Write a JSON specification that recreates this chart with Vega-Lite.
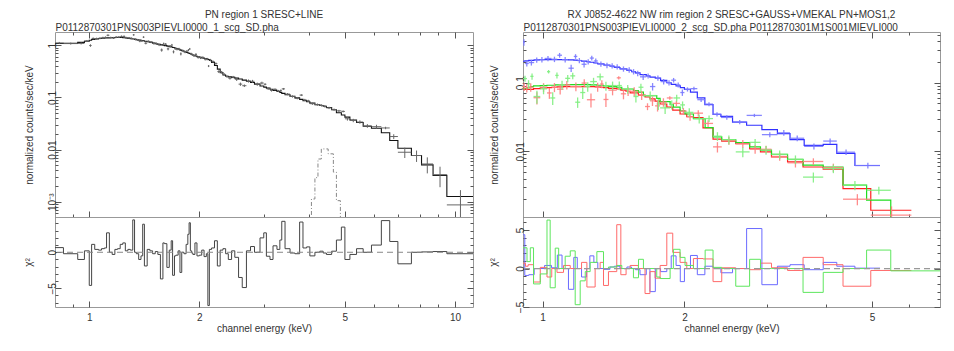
{
"$schema": "https://vega.github.io/schema/vega-lite/v6.json",
"autosize": {"type": "none"},
"padding": {"left": 55, "top": 32, "right": 899, "bottom": 319},
"config": {
 "font": "Liberation Sans",
 "view": {"stroke": "#999", "strokeWidth": 1},
 "axis": {"grid": false, "domain": false, "labelFont": "Liberation Sans", "titleFont": "Liberation Sans", "labelFontSize": 10, "titleFontSize": 10, "titleFontWeight": "normal", "labelColor": "#333", "titleColor": "#333", "tickColor": "#555", "labelOverlap": false, "labelFlush": false},
 "title": {"font": "Liberation Sans", "fontSize": 10, "fontWeight": "normal", "color": "#333"}
},
"datasets": {
 "pn": [
  {"lo":0.806,"hi":0.85,"c":0.828,"m":1.08,"d":1.112,"e":0.049,"r":0.65},
  {"lo":0.85,"hi":0.93,"c":0.89,"m":1.09,"d":1.08,"e":0.049,"r":-0.2},
  {"lo":0.93,"hi":0.97,"c":0.95,"m":1.14,"d":1.089,"e":0.051,"r":-1.0},
  {"lo":0.97,"hi":1.0,"c":0.985,"m":1.2,"d":1.211,"e":0.054,"r":0.2},
  {"lo":1.0,"hi":1.015,"c":1.0075,"m":1.25,"d":0.991,"e":0.056,"r":-4.6},
  {"lo":1.015,"hi":1.035,"c":1.025,"m":1.29,"d":1.354,"e":0.058,"r":1.1},
  {"lo":1.035,"hi":1.06,"c":1.0475,"m":1.32,"d":1.344,"e":0.059,"r":0.4},
  {"lo":1.06,"hi":1.08,"c":1.07,"m":1.35,"d":1.368,"e":0.061,"r":0.3},
  {"lo":1.08,"hi":1.1,"c":1.09,"m":1.37,"d":1.401,"e":0.062,"r":0.5},
  {"lo":1.1,"hi":1.115,"c":1.1075,"m":1.38,"d":1.417,"e":0.062,"r":0.6},
  {"lo":1.115,"hi":1.135,"c":1.125,"m":1.39,"d":1.559,"e":0.063,"r":2.7},
  {"lo":1.135,"hi":1.155,"c":1.145,"m":1.4,"d":1.4,"e":0.063,"r":0.0},
  {"lo":1.155,"hi":1.175,"c":1.165,"m":1.405,"d":1.386,"e":0.063,"r":-0.3},
  {"lo":1.175,"hi":1.195,"c":1.185,"m":1.41,"d":1.435,"e":0.063,"r":0.4},
  {"lo":1.195,"hi":1.215,"c":1.205,"m":1.41,"d":1.442,"e":0.063,"r":0.5},
  {"lo":1.215,"hi":1.235,"c":1.225,"m":1.41,"d":1.48,"e":0.063,"r":1.1},
  {"lo":1.235,"hi":1.255,"c":1.245,"m":1.4,"d":1.482,"e":0.063,"r":1.3},
  {"lo":1.255,"hi":1.275,"c":1.265,"m":1.38,"d":1.392,"e":0.062,"r":0.2},
  {"lo":1.275,"hi":1.295,"c":1.285,"m":1.36,"d":1.384,"e":0.061,"r":0.4},
  {"lo":1.295,"hi":1.315,"c":1.305,"m":1.34,"d":1.358,"e":0.06,"r":0.3},
  {"lo":1.315,"hi":1.33,"c":1.3225,"m":1.32,"d":1.587,"e":0.059,"r":4.5},
  {"lo":1.33,"hi":1.345,"c":1.3375,"m":1.3,"d":1.3,"e":0.059,"r":0.0},
  {"lo":1.345,"hi":1.365,"c":1.355,"m":1.28,"d":1.268,"e":0.058,"r":-0.2},
  {"lo":1.365,"hi":1.385,"c":1.375,"m":1.26,"d":1.203,"e":0.057,"r":-1.0},
  {"lo":1.385,"hi":1.4,"c":1.3925,"m":1.24,"d":1.212,"e":0.056,"r":-0.5},
  {"lo":1.4,"hi":1.415,"c":1.4075,"m":1.22,"d":1.434,"e":0.055,"r":3.9},
  {"lo":1.415,"hi":1.44,"c":1.4275,"m":1.2,"d":1.097,"e":0.054,"r":-1.9},
  {"lo":1.44,"hi":1.465,"c":1.4525,"m":1.17,"d":1.191,"e":0.053,"r":0.4},
  {"lo":1.465,"hi":1.49,"c":1.4775,"m":1.14,"d":1.15,"e":0.051,"r":0.2},
  {"lo":1.49,"hi":1.515,"c":1.5025,"m":1.1,"d":1.088,"e":0.061,"r":-0.2},
  {"lo":1.515,"hi":1.54,"c":1.5275,"m":1.07,"d":1.076,"e":0.059,"r":0.1},
  {"lo":1.54,"hi":1.565,"c":1.5525,"m":1.04,"d":1.023,"e":0.057,"r":-0.3},
  {"lo":1.565,"hi":1.59,"c":1.5775,"m":1.02,"d":0.812,"e":0.056,"r":-3.7},
  {"lo":1.59,"hi":1.605,"c":1.5975,"m":1.0,"d":1.072,"e":0.055,"r":1.3},
  {"lo":1.605,"hi":1.63,"c":1.6175,"m":0.985,"d":1.05,"e":0.054,"r":1.2},
  {"lo":1.63,"hi":1.655,"c":1.6425,"m":0.965,"d":0.854,"e":0.053,"r":-2.1},
  {"lo":1.655,"hi":1.675,"c":1.665,"m":0.945,"d":0.961,"e":0.052,"r":0.3},
  {"lo":1.675,"hi":1.69,"c":1.6825,"m":0.93,"d":1.012,"e":0.051,"r":1.6},
  {"lo":1.69,"hi":1.71,"c":1.7,"m":0.91,"d":0.75,"e":0.05,"r":-3.2},
  {"lo":1.71,"hi":1.725,"c":1.7175,"m":0.89,"d":0.866,"e":0.049,"r":-0.5},
  {"lo":1.725,"hi":1.75,"c":1.7375,"m":0.865,"d":0.846,"e":0.048,"r":-0.4},
  {"lo":1.75,"hi":1.77,"c":1.76,"m":0.84,"d":0.849,"e":0.046,"r":0.2},
  {"lo":1.77,"hi":1.79,"c":1.78,"m":0.81,"d":0.685,"e":0.045,"r":-2.8},
  {"lo":1.79,"hi":1.815,"c":1.8025,"m":0.785,"d":0.785,"e":0.043,"r":0.0},
  {"lo":1.815,"hi":1.84,"c":1.8275,"m":0.755,"d":0.747,"e":0.042,"r":-0.2},
  {"lo":1.84,"hi":1.86,"c":1.85,"m":0.73,"d":0.774,"e":0.04,"r":1.1},
  {"lo":1.86,"hi":1.875,"c":1.8675,"m":0.71,"d":0.808,"e":0.039,"r":2.5},
  {"lo":1.875,"hi":1.89,"c":1.8825,"m":0.695,"d":0.852,"e":0.038,"r":4.1},
  {"lo":1.89,"hi":1.905,"c":1.8975,"m":0.68,"d":0.687,"e":0.037,"r":0.2},
  {"lo":1.905,"hi":1.92,"c":1.9125,"m":0.665,"d":0.661,"e":0.037,"r":-0.1},
  {"lo":1.92,"hi":1.945,"c":1.9325,"m":0.645,"d":0.634,"e":0.035,"r":-0.3},
  {"lo":1.945,"hi":1.97,"c":1.9575,"m":0.625,"d":0.67,"e":0.034,"r":1.3},
  {"lo":1.97,"hi":2.0,"c":1.985,"m":0.605,"d":0.588,"e":0.033,"r":-0.5},
  {"lo":2.0,"hi":2.03,"c":2.015,"m":0.59,"d":0.577,"e":0.032,"r":-0.4},
  {"lo":2.03,"hi":2.06,"c":2.045,"m":0.575,"d":0.584,"e":0.032,"r":0.3},
  {"lo":2.06,"hi":2.09,"c":2.075,"m":0.56,"d":0.542,"e":0.031,"r":-0.6},
  {"lo":2.09,"hi":2.11,"c":2.1,"m":0.55,"d":0.544,"e":0.03,"r":-0.2},
  {"lo":2.11,"hi":2.13,"c":2.12,"m":0.535,"d":0.4,"e":0.018,"r":-7.4},
  {"lo":2.13,"hi":2.16,"c":2.145,"m":0.51,"d":0.521,"e":0.028,"r":0.4},
  {"lo":2.16,"hi":2.2,"c":2.18,"m":0.47,"d":0.486,"e":0.026,"r":0.6},
  {"lo":2.2,"hi":2.24,"c":2.22,"m":0.41,"d":0.446,"e":0.023,"r":1.6},
  {"lo":2.24,"hi":2.28,"c":2.26,"m":0.35,"d":0.313,"e":0.019,"r":-1.9},
  {"lo":2.28,"hi":2.32,"c":2.3,"m":0.3,"d":0.305,"e":0.017,"r":0.3},
  {"lo":2.32,"hi":2.36,"c":2.34,"m":0.27,"d":0.277,"e":0.015,"r":0.5},
  {"lo":2.36,"hi":2.4,"c":2.38,"m":0.255,"d":0.252,"e":0.014,"r":-0.2},
  {"lo":2.4,"hi":2.45,"c":2.425,"m":0.248,"d":0.234,"e":0.014,"r":-1.0},
  {"lo":2.45,"hi":2.5,"c":2.475,"m":0.243,"d":0.246,"e":0.013,"r":0.2},
  {"lo":2.5,"hi":2.56,"c":2.53,"m":0.235,"d":0.223,"e":0.016,"r":-0.7},
  {"lo":2.56,"hi":2.62,"c":2.59,"m":0.226,"d":0.18,"e":0.013,"r":-3.5},
  {"lo":2.62,"hi":2.69,"c":2.655,"m":0.215,"d":0.168,"e":0.0095,"r":-4.9},
  {"lo":2.69,"hi":2.76,"c":2.725,"m":0.204,"d":0.207,"e":0.014,"r":0.2},
  {"lo":2.76,"hi":2.83,"c":2.795,"m":0.193,"d":0.204,"e":0.0135,"r":0.8},
  {"lo":2.83,"hi":2.93,"c":2.88,"m":0.18,"d":0.18,"e":0.0126,"r":0.0},
  {"lo":2.93,"hi":3.0,"c":2.965,"m":0.166,"d":0.189,"e":0.0116,"r":2.0},
  {"lo":3.0,"hi":3.05,"c":3.025,"m":0.158,"d":0.179,"e":0.0079,"r":2.7},
  {"lo":3.05,"hi":3.12,"c":3.085,"m":0.151,"d":0.147,"e":0.0076,"r":-0.55},
  {"lo":3.12,"hi":3.18,"c":3.15,"m":0.144,"d":0.137,"e":0.0072,"r":-1.0},
  {"lo":3.18,"hi":3.26,"c":3.22,"m":0.137,"d":0.143,"e":0.0069,"r":0.9},
  {"lo":3.26,"hi":3.32,"c":3.29,"m":0.13,"d":0.133,"e":0.0065,"r":0.4},
  {"lo":3.32,"hi":3.36,"c":3.34,"m":0.125,"d":0.136,"e":0.0063,"r":1.7},
  {"lo":3.36,"hi":3.43,"c":3.395,"m":0.12,"d":0.146,"e":0.006,"r":4.3},
  {"lo":3.43,"hi":3.54,"c":3.485,"m":0.113,"d":0.116,"e":0.0057,"r":0.5},
  {"lo":3.54,"hi":3.65,"c":3.595,"m":0.105,"d":0.1045,"e":0.0053,"r":-0.1},
  {"lo":3.65,"hi":3.76,"c":3.705,"m":0.098,"d":0.097,"e":0.0049,"r":-0.2},
  {"lo":3.76,"hi":3.84,"c":3.8,"m":0.092,"d":0.111,"e":0.0046,"r":4.2},
  {"lo":3.84,"hi":3.93,"c":3.885,"m":0.087,"d":0.0896,"e":0.0044,"r":0.6},
  {"lo":3.93,"hi":4.01,"c":3.97,"m":0.083,"d":0.0861,"e":0.0042,"r":0.75},
  {"lo":4.01,"hi":4.14,"c":4.075,"m":0.078,"d":0.076,"e":0.0039,"r":-0.5},
  {"lo":4.14,"hi":4.27,"c":4.205,"m":0.073,"d":0.073,"e":0.0037,"r":0.0},
  {"lo":4.27,"hi":4.36,"c":4.315,"m":0.07,"d":0.0705,"e":0.0035,"r":0.15},
  {"lo":4.36,"hi":4.45,"c":4.405,"m":0.068,"d":0.0677,"e":0.0034,"r":-0.1},
  {"lo":4.45,"hi":4.6,"c":4.525,"m":0.064,"d":0.063,"e":0.0032,"r":-0.3},
  {"lo":4.6,"hi":4.74,"c":4.67,"m":0.058,"d":0.0584,"e":0.0029,"r":0.15},
  {"lo":4.74,"hi":4.89,"c":4.815,"m":0.051,"d":0.0553,"e":0.0026,"r":1.7},
  {"lo":4.89,"hi":5.0,"c":4.945,"m":0.046,"d":0.054,"e":0.0023,"r":3.5},
  {"lo":5.0,"hi":5.16,"c":5.08,"m":0.042,"d":0.039,"e":0.003,"r":-1.0},
  {"lo":5.16,"hi":5.38,"c":5.27,"m":0.037,"d":0.0362,"e":0.0027,"r":-0.3},
  {"lo":5.38,"hi":5.61,"c":5.495,"m":0.033,"d":0.0338,"e":0.0025,"r":0.5},
  {"lo":5.61,"hi":5.91,"c":5.76,"m":0.028,"d":0.0285,"e":0.0023,"r":0.0},
  {"lo":5.91,"hi":6.29,"c":6.1,"m":0.0257,"d":0.0275,"e":0.0024,"r":1.0},
  {"lo":6.29,"hi":6.63,"c":6.46,"m":0.021,"d":0.026,"e":0.0014,"r":4.4},
  {"lo":6.63,"hi":6.98,"c":6.8,"m":0.0149,"d":0.0178,"e":0.0019,"r":1.5},
  {"lo":6.98,"hi":7.6,"c":7.29,"m":0.0106,"d":0.0089,"e":0.002,"r":-1.6},
  {"lo":7.6,"hi":8.1,"c":7.85,"m":0.0077,"d":0.0077,"e":0.0019,"r":0.0},
  {"lo":8.1,"hi":8.71,"c":8.4,"m":0.0051,"d":0.0053,"e":0.0018,"r":0.05},
  {"lo":8.71,"hi":9.5,"c":9.1,"m":0.0032,"d":0.0033,"e":0.0014,"r":0.1},
  {"lo":9.5,"hi":11.2,"c":10.35,"m":0.00126,"d":0.00087,"e":0.0008,"r":-0.2}
 ],
 "gl": [
  {"lo":3.95,"hi":4.05,"g":0.0003},
  {"lo":4.05,"hi":4.14,"g":0.00113},
  {"lo":4.14,"hi":4.22,"g":0.0029},
  {"lo":4.22,"hi":4.31,"g":0.0066},
  {"lo":4.31,"hi":4.5,"g":0.0103},
  {"lo":4.5,"hi":4.65,"g":0.0083},
  {"lo":4.65,"hi":4.74,"g":0.0037},
  {"lo":4.74,"hi":4.86,"g":0.00105},
  {"lo":4.86,"hi":4.96,"g":0.0003}
 ],
 "rim": [
  {"det":"PN","lo":0.909,"hi":0.917,"c":0.913,"m":0.206,"d":0.39,"e":0.042,"r":4.4},
  {"det":"PN","lo":0.917,"hi":0.935,"c":0.926,"m":0.208,"d":0.191,"e":0.019,"r":-0.9},
  {"det":"PN","lo":0.935,"hi":0.96,"c":0.947,"m":0.212,"d":0.197,"e":0.019,"r":-0.8},
  {"det":"PN","lo":0.96,"hi":0.985,"c":0.972,"m":0.215,"d":0.215,"e":0.019,"r":0.0},
  {"det":"PN","lo":0.985,"hi":1.01,"c":0.997,"m":0.217,"d":0.217,"e":0.02,"r":0.0},
  {"det":"PN","lo":1.01,"hi":1.045,"c":1.027,"m":0.218,"d":0.226,"e":0.02,"r":0.4},
  {"det":"PN","lo":1.045,"hi":1.075,"c":1.06,"m":0.218,"d":0.22,"e":0.02,"r":0.1},
  {"det":"PN","lo":1.075,"hi":1.1,"c":1.087,"m":0.218,"d":0.252,"e":0.02,"r":1.75},
  {"det":"PN","lo":1.1,"hi":1.135,"c":1.117,"m":0.217,"d":0.217,"e":0.02,"r":0.0},
  {"det":"PN","lo":1.135,"hi":1.165,"c":1.15,"m":0.216,"d":0.163,"e":0.02,"r":-2.7},
  {"det":"PN","lo":1.165,"hi":1.185,"c":1.175,"m":0.214,"d":0.242,"e":0.019,"r":1.45},
  {"det":"PN","lo":1.185,"hi":1.21,"c":1.197,"m":0.211,"d":0.211,"e":0.019,"r":0.0},
  {"det":"PN","lo":1.21,"hi":1.24,"c":1.225,"m":0.207,"d":0.186,"e":0.019,"r":-1.1},
  {"det":"PN","lo":1.24,"hi":1.26,"c":1.25,"m":0.203,"d":0.203,"e":0.018,"r":0.0},
  {"det":"PN","lo":1.26,"hi":1.285,"c":1.272,"m":0.199,"d":0.229,"e":0.018,"r":1.65},
  {"det":"PN","lo":1.285,"hi":1.31,"c":1.297,"m":0.194,"d":0.208,"e":0.017,"r":0.8},
  {"det":"PN","lo":1.31,"hi":1.35,"c":1.33,"m":0.188,"d":0.188,"e":0.017,"r":0.0},
  {"det":"PN","lo":1.35,"hi":1.39,"c":1.37,"m":0.181,"d":0.179,"e":0.016,"r":-0.1},
  {"det":"PN","lo":1.39,"hi":1.42,"c":1.405,"m":0.174,"d":0.177,"e":0.016,"r":0.2},
  {"det":"PN","lo":1.42,"hi":1.46,"c":1.44,"m":0.167,"d":0.171,"e":0.015,"r":0.3},
  {"det":"PN","lo":1.46,"hi":1.51,"c":1.485,"m":0.159,"d":0.159,"e":0.014,"r":0.0},
  {"det":"PN","lo":1.51,"hi":1.545,"c":1.527,"m":0.151,"d":0.154,"e":0.014,"r":0.2},
  {"det":"PN","lo":1.545,"hi":1.575,"c":1.56,"m":0.145,"d":0.145,"e":0.013,"r":0.0},
  {"det":"PN","lo":1.575,"hi":1.61,"c":1.592,"m":0.139,"d":0.137,"e":0.0125,"r":-0.15},
  {"det":"PN","lo":1.61,"hi":1.66,"c":1.635,"m":0.131,"d":0.122,"e":0.012,"r":-0.8},
  {"det":"PN","lo":1.66,"hi":1.69,"c":1.675,"m":0.126,"d":0.126,"e":0.011,"r":0.0},
  {"det":"PN","lo":1.69,"hi":1.735,"c":1.712,"m":0.121,"d":0.088,"e":0.011,"r":-3.0},
  {"det":"PN","lo":1.735,"hi":1.78,"c":1.757,"m":0.117,"d":0.117,"e":0.0105,"r":0.0},
  {"det":"PN","lo":1.78,"hi":1.835,"c":1.807,"m":0.108,"d":0.104,"e":0.0097,"r":-0.4},
  {"det":"PN","lo":1.835,"hi":1.875,"c":1.855,"m":0.1,"d":0.1,"e":0.009,"r":0.0},
  {"det":"PN","lo":1.875,"hi":1.92,"c":1.897,"m":0.095,"d":0.109,"e":0.0085,"r":1.65},
  {"det":"PN","lo":1.92,"hi":1.96,"c":1.94,"m":0.09,"d":0.093,"e":0.008,"r":0.4},
  {"det":"PN","lo":1.96,"hi":2.0,"c":1.98,"m":0.085,"d":0.072,"e":0.0077,"r":-1.7},
  {"det":"PN","lo":2.0,"hi":2.06,"c":2.03,"m":0.08,"d":0.08,"e":0.0056,"r":0.0},
  {"det":"PN","lo":2.06,"hi":2.13,"c":2.095,"m":0.073,"d":0.082,"e":0.0051,"r":1.7},
  {"det":"PN","lo":2.13,"hi":2.21,"c":2.17,"m":0.06,"d":0.0566,"e":0.0042,"r":-0.8},
  {"det":"PN","lo":2.21,"hi":2.3,"c":2.255,"m":0.0478,"d":0.0488,"e":0.0033,"r":0.3},
  {"det":"PN","lo":2.3,"hi":2.39,"c":2.345,"m":0.0346,"d":0.0347,"e":0.0024,"r":0.05},
  {"det":"PN","lo":2.39,"hi":2.53,"c":2.46,"m":0.0324,"d":0.0312,"e":0.0023,"r":-0.55},
  {"det":"PN","lo":2.53,"hi":2.71,"c":2.62,"m":0.0267,"d":0.0267,"e":0.0019,"r":0.0},
  {"det":"PN","lo":2.71,"hi":2.92,"c":2.815,"m":0.024,"d":0.0334,"e":0.0018,"r":5.2},
  {"det":"PN","lo":2.92,"hi":3.15,"c":3.035,"m":0.0207,"d":0.0175,"e":0.0015,"r":-2.1},
  {"det":"PN","lo":3.15,"hi":3.35,"c":3.25,"m":0.0181,"d":0.0186,"e":0.0018,"r":0.3},
  {"det":"PN","lo":3.35,"hi":3.59,"c":3.47,"m":0.0148,"d":0.0155,"e":0.0015,"r":0.5},
  {"det":"PN","lo":3.59,"hi":3.94,"c":3.765,"m":0.0122,"d":0.0118,"e":0.0012,"r":-0.15},
  {"det":"PN","lo":3.94,"hi":4.21,"c":4.075,"m":0.0126,"d":0.0141,"e":0.0013,"r":0.8},
  {"det":"PN","lo":4.21,"hi":4.6,"c":4.405,"m":0.0093,"d":0.0097,"e":0.0009,"r":0.3},
  {"det":"PN","lo":4.6,"hi":5.2,"c":4.9,"m":0.0062,"d":0.0062,"e":0.0006,"r":0.05},
  {"det":"MOS1","lo":0.909,"hi":0.92,"c":0.914,"m":0.08,"d":0.088,"e":0.012,"r":0.7},
  {"det":"MOS1","lo":0.92,"hi":0.932,"c":0.926,"m":0.08,"d":0.084,"e":0.012,"r":0.3},
  {"det":"MOS1","lo":0.932,"hi":0.957,"c":0.944,"m":0.08,"d":0.086,"e":0.012,"r":0.5},
  {"det":"MOS1","lo":0.957,"hi":0.989,"c":0.973,"m":0.082,"d":0.0605,"e":0.0123,"r":-1.75},
  {"det":"MOS1","lo":0.989,"hi":1.022,"c":1.005,"m":0.084,"d":0.086,"e":0.0126,"r":0.15},
  {"det":"MOS1","lo":1.022,"hi":1.046,"c":1.034,"m":0.085,"d":0.071,"e":0.0128,"r":-1.1},
  {"det":"MOS1","lo":1.046,"hi":1.073,"c":1.06,"m":0.086,"d":0.086,"e":0.013,"r":0.0},
  {"det":"MOS1","lo":1.073,"hi":1.108,"c":1.09,"m":0.087,"d":0.0805,"e":0.013,"r":-0.5},
  {"det":"MOS1","lo":1.108,"hi":1.145,"c":1.126,"m":0.088,"d":0.093,"e":0.013,"r":0.4},
  {"det":"MOS1","lo":1.145,"hi":1.21,"c":1.177,"m":0.088,"d":0.088,"e":0.013,"r":0.0},
  {"det":"MOS1","lo":1.21,"hi":1.242,"c":1.226,"m":0.088,"d":0.099,"e":0.013,"r":0.8},
  {"det":"MOS1","lo":1.242,"hi":1.293,"c":1.267,"m":0.088,"d":0.0565,"e":0.013,"r":-2.4},
  {"det":"MOS1","lo":1.293,"hi":1.325,"c":1.309,"m":0.087,"d":0.087,"e":0.013,"r":0.0},
  {"det":"MOS1","lo":1.325,"hi":1.347,"c":1.336,"m":0.086,"d":0.096,"e":0.013,"r":0.8},
  {"det":"MOS1","lo":1.347,"hi":1.38,"c":1.363,"m":0.085,"d":0.057,"e":0.0128,"r":-2.2},
  {"det":"MOS1","lo":1.38,"hi":1.437,"c":1.408,"m":0.083,"d":0.078,"e":0.0125,"r":-0.4},
  {"det":"MOS1","lo":1.437,"hi":1.466,"c":1.451,"m":0.081,"d":0.118,"e":0.0065,"r":5.7},
  {"det":"MOS1","lo":1.466,"hi":1.504,"c":1.485,"m":0.078,"d":0.069,"e":0.0117,"r":-0.8},
  {"det":"MOS1","lo":1.504,"hi":1.534,"c":1.519,"m":0.075,"d":0.075,"e":0.011,"r":0.0},
  {"det":"MOS1","lo":1.534,"hi":1.597,"c":1.565,"m":0.071,"d":0.075,"e":0.0107,"r":0.4},
  {"det":"MOS1","lo":1.597,"hi":1.65,"c":1.623,"m":0.066,"d":0.066,"e":0.01,"r":0.0},
  {"det":"MOS1","lo":1.65,"hi":1.69,"c":1.67,"m":0.062,"d":0.045,"e":0.0052,"r":-3.25},
  {"det":"MOS1","lo":1.69,"hi":1.733,"c":1.711,"m":0.058,"d":0.0545,"e":0.0087,"r":-0.4},
  {"det":"MOS1","lo":1.733,"hi":1.776,"c":1.754,"m":0.054,"d":0.046,"e":0.008,"r":-1.25},
  {"det":"MOS1","lo":1.776,"hi":1.835,"c":1.805,"m":0.049,"d":0.052,"e":0.0074,"r":0.4},
  {"det":"MOS1","lo":1.835,"hi":1.889,"c":1.862,"m":0.044,"d":0.06,"e":0.0035,"r":4.6},
  {"det":"MOS1","lo":1.889,"hi":1.958,"c":1.923,"m":0.04,"d":0.05,"e":0.0048,"r":2.1},
  {"det":"MOS1","lo":1.958,"hi":2.023,"c":1.99,"m":0.035,"d":0.0385,"e":0.0044,"r":0.8},
  {"det":"MOS1","lo":2.023,"hi":2.09,"c":2.056,"m":0.032,"d":0.032,"e":0.0042,"r":0.0},
  {"det":"MOS1","lo":2.09,"hi":2.19,"c":2.14,"m":0.031,"d":0.036,"e":0.0038,"r":1.3},
  {"det":"MOS1","lo":2.19,"hi":2.3,"c":2.245,"m":0.022,"d":0.0255,"e":0.0028,"r":1.25},
  {"det":"MOS1","lo":2.3,"hi":2.4,"c":2.35,"m":0.015,"d":0.0116,"e":0.002,"r":-1.7},
  {"det":"MOS1","lo":2.4,"hi":2.57,"c":2.485,"m":0.0141,"d":0.0143,"e":0.0018,"r":0.1},
  {"det":"MOS1","lo":2.57,"hi":2.75,"c":2.66,"m":0.0129,"d":0.0129,"e":0.0017,"r":0.0},
  {"det":"MOS1","lo":2.75,"hi":2.9,"c":2.825,"m":0.0109,"d":0.0107,"e":0.0015,"r":-0.15},
  {"det":"MOS1","lo":2.9,"hi":3.06,"c":2.98,"m":0.0098,"d":0.0107,"e":0.0013,"r":0.7},
  {"det":"MOS1","lo":3.06,"hi":3.31,"c":3.185,"m":0.0083,"d":0.0084,"e":0.0011,"r":0.1},
  {"det":"MOS1","lo":3.31,"hi":3.57,"c":3.44,"m":0.007,"d":0.0068,"e":0.001,"r":-0.25},
  {"det":"MOS1","lo":3.57,"hi":3.94,"c":3.755,"m":0.0059,"d":0.0071,"e":0.0008,"r":1.45},
  {"det":"MOS1","lo":3.94,"hi":4.34,"c":4.14,"m":0.0055,"d":0.0058,"e":0.0008,"r":0.5},
  {"det":"MOS1","lo":4.34,"hi":4.97,"c":4.655,"m":0.00286,"d":0.002,"e":0.00037,"r":-2.3},
  {"det":"MOS1","lo":4.97,"hi":6.06,"c":5.5,"m":0.00138,"d":0.00117,"e":0.0004,"r":-0.25},
  {"det":"MOS2","lo":0.909,"hi":0.927,"c":0.918,"m":0.082,"d":0.115,"e":0.012,"r":2.7},
  {"det":"MOS2","lo":0.927,"hi":0.942,"c":0.934,"m":0.085,"d":0.096,"e":0.013,"r":0.9},
  {"det":"MOS2","lo":0.942,"hi":0.957,"c":0.95,"m":0.088,"d":0.124,"e":0.013,"r":2.7},
  {"det":"MOS2","lo":0.957,"hi":0.989,"c":0.973,"m":0.09,"d":0.063,"e":0.0135,"r":-2.0},
  {"det":"MOS2","lo":0.989,"hi":1.022,"c":1.005,"m":0.091,"d":0.0815,"e":0.0136,"r":-0.7},
  {"det":"MOS2","lo":1.022,"hi":1.038,"c":1.03,"m":0.092,"d":0.145,"e":0.0084,"r":6.3},
  {"det":"MOS2","lo":1.038,"hi":1.064,"c":1.051,"m":0.092,"d":0.06,"e":0.0128,"r":-2.5},
  {"det":"MOS2","lo":1.064,"hi":1.082,"c":1.073,"m":0.093,"d":0.128,"e":0.013,"r":2.65},
  {"det":"MOS2","lo":1.082,"hi":1.117,"c":1.1,"m":0.093,"d":0.093,"e":0.014,"r":0.0},
  {"det":"MOS2","lo":1.117,"hi":1.145,"c":1.131,"m":0.094,"d":0.116,"e":0.014,"r":1.6},
  {"det":"MOS2","lo":1.145,"hi":1.173,"c":1.159,"m":0.094,"d":0.126,"e":0.014,"r":2.3},
  {"det":"MOS2","lo":1.173,"hi":1.202,"c":1.187,"m":0.094,"d":0.052,"e":0.009,"r":-4.7},
  {"det":"MOS2","lo":1.202,"hi":1.232,"c":1.217,"m":0.094,"d":0.072,"e":0.014,"r":-1.6},
  {"det":"MOS2","lo":1.232,"hi":1.262,"c":1.247,"m":0.094,"d":0.088,"e":0.014,"r":-0.4},
  {"det":"MOS2","lo":1.262,"hi":1.304,"c":1.283,"m":0.093,"d":0.104,"e":0.014,"r":0.8},
  {"det":"MOS2","lo":1.304,"hi":1.347,"c":1.325,"m":0.092,"d":0.122,"e":0.014,"r":2.2},
  {"det":"MOS2","lo":1.347,"hi":1.38,"c":1.363,"m":0.09,"d":0.09,"e":0.0135,"r":0.0},
  {"det":"MOS2","lo":1.38,"hi":1.437,"c":1.408,"m":0.088,"d":0.091,"e":0.013,"r":0.2},
  {"det":"MOS2","lo":1.437,"hi":1.473,"c":1.455,"m":0.086,"d":0.091,"e":0.013,"r":0.4},
  {"det":"MOS2","lo":1.473,"hi":1.559,"c":1.516,"m":0.081,"d":0.081,"e":0.012,"r":0.0},
  {"det":"MOS2","lo":1.559,"hi":1.598,"c":1.578,"m":0.077,"d":0.063,"e":0.0115,"r":-1.2},
  {"det":"MOS2","lo":1.598,"hi":1.637,"c":1.617,"m":0.073,"d":0.086,"e":0.011,"r":1.2},
  {"det":"MOS2","lo":1.637,"hi":1.747,"c":1.692,"m":0.065,"d":0.065,"e":0.0098,"r":0.0},
  {"det":"MOS2","lo":1.747,"hi":1.776,"c":1.761,"m":0.059,"d":0.049,"e":0.0089,"r":-1.1},
  {"det":"MOS2","lo":1.776,"hi":1.865,"c":1.82,"m":0.053,"d":0.043,"e":0.008,"r":-1.3},
  {"det":"MOS2","lo":1.865,"hi":1.895,"c":1.88,"m":0.048,"d":0.048,"e":0.0072,"r":0.0},
  {"det":"MOS2","lo":1.895,"hi":1.958,"c":1.926,"m":0.044,"d":0.06,"e":0.0066,"r":2.5},
  {"det":"MOS2","lo":1.958,"hi":2.006,"c":1.982,"m":0.039,"d":0.0475,"e":0.0059,"r":1.45},
  {"det":"MOS2","lo":2.006,"hi":2.09,"c":2.048,"m":0.035,"d":0.037,"e":0.0053,"r":0.4},
  {"det":"MOS2","lo":2.09,"hi":2.213,"c":2.15,"m":0.03,"d":0.03,"e":0.0045,"r":0.0},
  {"det":"MOS2","lo":2.213,"hi":2.3,"c":2.256,"m":0.0221,"d":0.03,"e":0.0033,"r":2.4},
  {"det":"MOS2","lo":2.3,"hi":2.4,"c":2.35,"m":0.0162,"d":0.0166,"e":0.0024,"r":0.15},
  {"det":"MOS2","lo":2.4,"hi":2.57,"c":2.485,"m":0.0148,"d":0.0148,"e":0.0022,"r":0.0},
  {"det":"MOS2","lo":2.57,"hi":2.75,"c":2.66,"m":0.0134,"d":0.0098,"e":0.0016,"r":-2.3},
  {"det":"MOS2","lo":2.75,"hi":2.9,"c":2.825,"m":0.0116,"d":0.0135,"e":0.0016,"r":1.2},
  {"det":"MOS2","lo":2.9,"hi":3.06,"c":2.98,"m":0.0104,"d":0.0104,"e":0.0015,"r":0.0},
  {"det":"MOS2","lo":3.06,"hi":3.31,"c":3.185,"m":0.009,"d":0.009,"e":0.0013,"r":0.0},
  {"det":"MOS2","lo":3.31,"hi":3.57,"c":3.44,"m":0.0076,"d":0.0076,"e":0.0011,"r":0.0},
  {"det":"MOS2","lo":3.57,"hi":3.94,"c":3.755,"m":0.0063,"d":0.0042,"e":0.0007,"r":-3.1},
  {"det":"MOS2","lo":3.94,"hi":4.34,"c":4.14,"m":0.0059,"d":0.0056,"e":0.0008,"r":-0.5},
  {"det":"MOS2","lo":4.34,"hi":4.87,"c":4.6,"m":0.0032,"d":0.0032,"e":0.0005,"r":0.0},
  {"det":"MOS2","lo":4.87,"hi":5.48,"c":5.17,"m":0.00194,"d":0.0027,"e":0.00035,"r":2.4},
  {"det":"MOS2","lo":5.48,"hi":7.0,"c":6.2,"m":0.0009,"d":0.0008,"e":0.0003,"r":-0.3}
 ]
},
"bounds": "flush",
"columns": 2,
"spacing": {"row": 0, "column": 50},
"concat": [
 {
  "width": 418, "height": 185,
  "title": {"text": "PN region 1 SRESC+LINE", "anchor": "middle", "offset": 3},
  "layer": [
   {
    "data": {"name": "pn"},
    "transform": [{"fold": ["lo", "hi"], "as": ["edge", "E"]}],
    "mark": {"type": "line", "color": "#111", "strokeWidth": 1.1, "clip": true},
    "encoding": {
     "x": {"field": "E", "type": "quantitative", "scale": {"type": "log", "domain": [0.806, 11.2], "nice": false},
           "axis": {"orient": "bottom", "values": [0.9,1,2,3,4,5,6,7,8,9,10], "labels": false, "title": null, "domain": true, "domainColor": "#222",
                    "tickSize": {"condition": {"test": "indexof([1,2,5,10], datum.value) >= 0", "value": -6}, "value": -3}}},
     "y": {"field": "m", "type": "quantitative", "scale": {"type": "log", "domain": [0.00051, 1.8], "nice": false},
           "axis": {"orient": "left", "values": [0.0006,0.0007,0.0008,0.0009,0.001,0.002,0.003,0.004,0.005,0.006,0.007,0.008,0.009,0.01,0.02,0.03,0.04,0.05,0.06,0.07,0.08,0.09,0.1,0.2,0.3,0.4,0.5,0.6,0.7,0.8,0.9,1],
                    "labelExpr": "datum.value == 1 ? '1' : datum.value == 0.1 ? '0.1' : datum.value == 0.01 ? '0.01' : datum.value == 0.001 ? '10⁻³' : ''",
                    "labelAngle": -90, "labelPadding": 4, "title": "normalized counts/sec/keV", "titlePadding": 9.5,
                    "tickSize": {"condition": {"test": "datum.value == 1 || datum.value == 0.1 || datum.value == 0.01 || datum.value == 0.001", "value": -6}, "value": -3}}},
     "order": [{"field": "E", "type": "quantitative"}, {"field": "edge", "type": "ordinal"}]
    }
   },
   {
    "data": {"name": "pn"},
    "mark": {"type": "rule", "color": "#666", "strokeWidth": 1, "clip": true},
    "encoding": {
     "x": {"field": "lo", "type": "quantitative",
           "axis": {"orient": "top", "values": [0.9,1,2,3,4,5,6,7,8,9,10], "labels": false,
                    "title": "P0112870301PNS003PIEVLI0000_1_scg_SD.pha", "titleAnchor": "start", "titleAlign": "left", "titlePadding": -1,
                    "tickSize": {"condition": {"test": "indexof([1,2,5,10], datum.value) >= 0", "value": -6}, "value": -3}}},
     "x2": {"field": "hi"},
     "y": {"field": "d", "type": "quantitative",
           "axis": {"orient": "right", "values": [0.0006,0.0007,0.0008,0.0009,0.001,0.002,0.003,0.004,0.005,0.006,0.007,0.008,0.009,0.01,0.02,0.03,0.04,0.05,0.06,0.07,0.08,0.09,0.1,0.2,0.3,0.4,0.5,0.6,0.7,0.8,0.9,1],
                    "labels": false, "title": null,
                    "tickSize": {"condition": {"test": "datum.value == 1 || datum.value == 0.1 || datum.value == 0.01 || datum.value == 0.001", "value": -6}, "value": -3}}}
    }
   },
   {
    "data": {"name": "pn"},
    "mark": {"type": "errorbar", "color": "#666", "thickness": 1, "clip": true},
    "encoding": {
     "x": {"field": "c", "type": "quantitative", "axis": null},
     "y": {"field": "d", "type": "quantitative", "axis": null},
     "yError": {"field": "e"}
    }
   },
   {
    "data": {"name": "gl"},
    "transform": [{"fold": ["lo", "hi"], "as": ["edge", "E"]}],
    "mark": {"type": "line", "color": "#888", "strokeWidth": 1, "strokeDash": [4, 2, 1, 2], "clip": true},
    "encoding": {
     "x": {"field": "E", "type": "quantitative", "axis": null},
     "y": {"field": "g", "type": "quantitative", "axis": null},
     "order": [{"field": "E", "type": "quantitative"}, {"field": "edge", "type": "ordinal"}]
    }
   }
  ],
  "resolve": {"axis": {"x": "independent", "y": "independent"}}
 },
 {
  "width": 417, "height": 185,
  "title": {"text": "RX J0852-4622 NW rim region 2 SRESC+GAUSS+VMEKAL PN+MOS1,2", "anchor": "middle", "offset": 3},
  "layer": [
   {
    "data": {"name": "rim"},
    "transform": [{"fold": ["lo", "hi"], "as": ["edge", "E"]}],
    "mark": {"type": "line", "strokeWidth": 1.2, "clip": true},
    "encoding": {
     "x": {"field": "E", "type": "quantitative", "scale": {"type": "log", "domain": [0.909, 6.97], "nice": false},
           "axis": {"orient": "bottom", "values": [1,2,3,4,5,6], "labels": false, "title": null, "domain": true, "domainColor": "#222",
                    "tickSize": {"condition": {"test": "indexof([1,2,5], datum.value) >= 0", "value": -6}, "value": -3}}},
     "y": {"field": "m", "type": "quantitative", "scale": {"type": "log", "domain": [0.0011, 0.55], "nice": false},
           "axis": {"orient": "left", "values": [0.002,0.003,0.004,0.005,0.006,0.007,0.008,0.009,0.01,0.02,0.03,0.04,0.05,0.06,0.07,0.08,0.09,0.1,0.2,0.3,0.4,0.5],
                    "labelExpr": "datum.value == 0.1 ? '0.1' : datum.value == 0.01 ? '0.01' : ''",
                    "labelAngle": -90, "labelPadding": 4, "title": "normalized counts/sec/keV", "titlePadding": 12.5,
                    "tickSize": {"condition": {"test": "datum.value == 0.1 || datum.value == 0.01", "value": -6}, "value": -3}}},
     "color": {"field": "det", "type": "nominal", "scale": {"domain": ["PN", "MOS1", "MOS2"], "range": ["#3030ff", "#ff2020", "#20dd20"]}, "legend": null},
     "order": [{"field": "E", "type": "quantitative"}, {"field": "edge", "type": "ordinal"}]
    }
   },
   {
    "data": {"name": "rim"},
    "mark": {"type": "rule", "strokeWidth": 1.3, "opacity": 0.9, "clip": true},
    "encoding": {
     "x": {"field": "lo", "type": "quantitative",
           "axis": {"orient": "top", "values": [1,2,3,4,5,6], "labels": false,
                    "title": "P0112870301PNS003PIEVLI0000_2_scg_SD.pha P0112870301M1S001MIEVLI000", "titleAnchor": "start", "titleAlign": "left", "titlePadding": -1,
                    "tickSize": {"condition": {"test": "indexof([1,2,5], datum.value) >= 0", "value": -6}, "value": -3}}},
     "x2": {"field": "hi"},
     "y": {"field": "d", "type": "quantitative",
           "axis": {"orient": "right", "values": [0.002,0.003,0.004,0.005,0.006,0.007,0.008,0.009,0.01,0.02,0.03,0.04,0.05,0.06,0.07,0.08,0.09,0.1,0.2,0.3,0.4,0.5],
                    "labels": false, "title": null,
                    "tickSize": {"condition": {"test": "datum.value == 0.1 || datum.value == 0.01", "value": -6}, "value": -3}}},
     "color": {"field": "det", "type": "nominal", "scale": {"domain": ["PN", "MOS1", "MOS2"], "range": ["#7a7aff", "#ff7f7f", "#7fee7f"]}, "legend": null}
    }
   },
   {
    "data": {"name": "rim"},
    "mark": {"type": "errorbar", "thickness": 1.3, "opacity": 0.9, "clip": true},
    "encoding": {
     "x": {"field": "c", "type": "quantitative", "axis": null},
     "y": {"field": "d", "type": "quantitative", "axis": null},
     "yError": {"field": "e"},
     "color": {"field": "det", "type": "nominal", "scale": {"domain": ["PN", "MOS1", "MOS2"], "range": ["#7a7aff", "#ff7f7f", "#7fee7f"]}, "legend": null}
    }
   }
  ],
  "resolve": {"axis": {"x": "independent", "y": "independent"}, "scale": {"color": "independent"}}
 },
 {
  "width": 418, "height": 90,
  "layer": [
   {
    "data": {"name": "pn"},
    "transform": [{"fold": ["lo", "hi"], "as": ["edge", "E"]}],
    "mark": {"type": "line", "color": "#444", "strokeWidth": 1, "clip": true},
    "encoding": {
     "x": {"field": "E", "type": "quantitative", "scale": {"type": "log", "domain": [0.806, 11.2], "nice": false},
           "axis": {"orient": "bottom", "values": [0.9,1,2,3,4,5,6,7,8,9,10], "labelExpr": "indexof([1,2,5,10], datum.value) >= 0 ? datum.label : ''",
                    "title": "channel energy (keV)", "labelPadding": 11, "titlePadding": -2,
                    "tickSize": {"condition": {"test": "indexof([1,2,5,10], datum.value) >= 0", "value": -6}, "value": -3}}},
     "y": {"field": "r", "type": "quantitative", "scale": {"domain": [-7.6, 4.9], "nice": false, "zero": false},
           "axis": {"orient": "left", "values": [-7,-6,-5,-4,-3,-2,-1,0,1,2,3,4], "labelExpr": "datum.value == 0 || datum.value == -5 ? datum.label : ''",
                    "labelAngle": -90, "labelPadding": 4, "title": "χ²", "titlePadding": 11,
                    "tickSize": {"condition": {"test": "datum.value % 5 == 0", "value": -6}, "value": -3}}},
     "order": [{"field": "E", "type": "quantitative"}, {"field": "edge", "type": "ordinal"}]
    }
   },
   {
    "data": {"values": [{}]},
    "mark": {"type": "rule", "color": "#888", "strokeDash": [6, 4], "strokeWidth": 1},
    "encoding": {
     "y": {"datum": 0, "type": "quantitative",
           "axis": {"orient": "right", "values": [-7,-6,-5,-4,-3,-2,-1,0,1,2,3,4], "labels": false, "title": null,
                    "tickSize": {"condition": {"test": "datum.value % 5 == 0", "value": -6}, "value": -3}}}
    }
   }
  ],
  "resolve": {"axis": {"x": "independent", "y": "independent"}}
 },
 {
  "width": 417, "height": 90,
  "layer": [
   {
    "data": {"name": "rim"},
    "transform": [{"fold": ["lo", "hi"], "as": ["edge", "E"]}],
    "mark": {"type": "line", "strokeWidth": 1, "clip": true},
    "encoding": {
     "x": {"field": "E", "type": "quantitative", "scale": {"type": "log", "domain": [0.909, 6.97], "nice": false},
           "axis": {"orient": "bottom", "values": [1,2,3,4,5,6], "labelExpr": "indexof([1,2,5], datum.value) >= 0 ? datum.label : ''",
                    "title": "channel energy (keV)", "labelPadding": 11, "titlePadding": -2,
                    "tickSize": {"condition": {"test": "indexof([1,2,5], datum.value) >= 0", "value": -6}, "value": -3}}},
     "y": {"field": "r", "type": "quantitative", "scale": {"domain": [-5, 6.7], "nice": false, "zero": false},
           "axis": {"orient": "left", "values": [-5,-4,-3,-2,-1,0,1,2,3,4,5,6], "labelExpr": "datum.value % 5 == 0 ? datum.label : ''",
                    "labelAngle": -90, "labelPadding": 4, "title": "χ²", "titlePadding": 14,
                    "tickSize": {"condition": {"test": "datum.value % 5 == 0", "value": -6}, "value": -3}}},
     "color": {"field": "det", "type": "nominal", "scale": {"domain": ["PN", "MOS1", "MOS2"], "range": ["#6a6aff", "#ff6a6a", "#5ee65e"]}, "legend": null},
     "order": [{"field": "E", "type": "quantitative"}, {"field": "edge", "type": "ordinal"}]
    }
   },
   {
    "data": {"values": [{}]},
    "mark": {"type": "rule", "color": "#999", "strokeDash": [6, 4], "strokeWidth": 1.2},
    "encoding": {
     "y": {"datum": 0, "type": "quantitative",
           "axis": {"orient": "right", "values": [-5,-4,-3,-2,-1,0,1,2,3,4,5,6], "labels": false, "title": null,
                    "tickSize": {"condition": {"test": "datum.value % 5 == 0", "value": -6}, "value": -3}}}
    }
   }
  ],
  "resolve": {"axis": {"x": "independent", "y": "independent"}}
 }
]
}
